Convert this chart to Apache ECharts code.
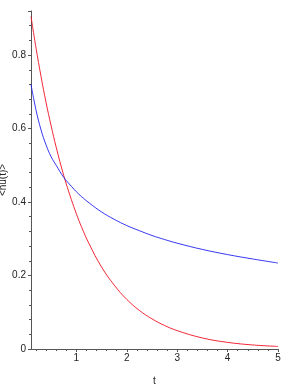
<!DOCTYPE html>
<html>
<head>
<meta charset="utf-8">
<script src="https://cdn.jsdelivr.net/npm/echarts@6/dist/echarts.min.js"></script>
<style>html,body{margin:0;padding:0;background:#fff;}#c{width:292px;height:392px;}</style>
</head>
<body>
<div id="c"></div>
<script>
const tValues = [0.1, 0.2, 0.3, 0.4, 0.5, 0.6, 0.75, 0.9, 1.0, 1.1, 1.25, 1.5, 1.75, 2.0, 2.25, 2.5, 2.75, 3.0, 3.5, 4.0, 4.5, 5.0];
const redValues = [0.905, 0.819, 0.741, 0.670, 0.607, 0.549, 0.472, 0.407, 0.368, 0.333, 0.287, 0.223, 0.174, 0.135, 0.105, 0.082, 0.064, 0.050, 0.030, 0.018, 0.011, 0.007];
const blueValues = [0.720, 0.650, 0.596, 0.555, 0.523, 0.500, 0.467, 0.443, 0.428, 0.415, 0.398, 0.373, 0.353, 0.336, 0.322, 0.309, 0.298, 0.288, 0.271, 0.257, 0.245, 0.234];
const xTicks = [1, 2, 3, 4, 5];
const xMinorTicks = [0.2, 0.4, 0.6, 0.8, 1.2, 1.4, 1.6, 1.8, 2.2, 2.4, 2.6, 2.8, 3.2, 3.4, 3.6, 3.8, 4.2, 4.4, 4.6, 4.8];
const yTickLabels = ['0', '0.2', '0.4', '0.6', '0.8'];

const chart = echarts.init(document.getElementById('c'), null, {renderer: 'canvas'});
const pair = (ys) => tValues.map((t, i) => [t, ys[i]]);
const axisColor = '#555';
const font = 'Liberation Sans, Arial, sans-serif';
chart.setOption({
  animation: false,
  backgroundColor: '#fff',
  grid: {left: 31, right: 14, top: 11, bottom: 43, containLabel: false, outerBoundsMode: 'none'},
  xAxis: [{
    type: 'value', min: 0.1, max: 5,
    name: 't', nameLocation: 'middle', nameGap: 27, nameMoveOverlap: false,
    nameTextStyle: {color: '#222', fontSize: 10, fontFamily: font},
    axisLine: {show: true, onZero: false, lineStyle: {color: axisColor, width: 1}},
    axisTick: {show: true, length: 3, customValues: xTicks, lineStyle: {color: axisColor}},
    splitLine: {show: false},
    axisLabel: {color: '#222', fontSize: 10, fontFamily: font, margin: 4, customValues: xTicks,
      formatter: (v) => String(Math.round(v))}
  }, {
    type: 'value', min: 0.1, max: 5, position: 'bottom',
    axisLine: {show: false, onZero: false},
    axisTick: {show: true, length: 2, customValues: xMinorTicks, lineStyle: {color: axisColor}},
    axisLabel: {show: false},
    splitLine: {show: false}
  }],
  yAxis: {
    type: 'value', min: 0, max: 0.92, interval: 0.2,
    name: '<nu(t)>', nameLocation: 'middle', nameGap: 23, nameRotate: 90, nameMoveOverlap: false,
    nameTextStyle: {color: '#222', fontSize: 10, fontFamily: font},
    axisLine: {show: true, lineStyle: {color: axisColor, width: 1}},
    axisTick: {show: true, length: 3, lineStyle: {color: axisColor}},
    minorTick: {show: true, splitNumber: 5, length: 2, lineStyle: {color: axisColor}},
    splitLine: {show: false},
    axisLabel: {color: '#222', fontSize: 10, fontFamily: font, margin: 5, showMaxLabel: false,
      formatter: (v) => { const s = v === 0 ? '0' : (Math.round(v * 10) / 10).toString(); return (Math.abs(v * 5 - Math.round(v * 5)) < 1e-6 && yTickLabels.includes(s)) ? s : ''; }}
  },
  series: [
    {type: 'line', data: pair(redValues), smooth: 0.4, symbol: 'none', lineStyle: {color: '#f01020', width: 0.9}},
    {type: 'line', data: pair(blueValues), smooth: 0.4, symbol: 'none', lineStyle: {color: '#2020f0', width: 0.9}}
  ]
});
</script>
</body>
</html>
